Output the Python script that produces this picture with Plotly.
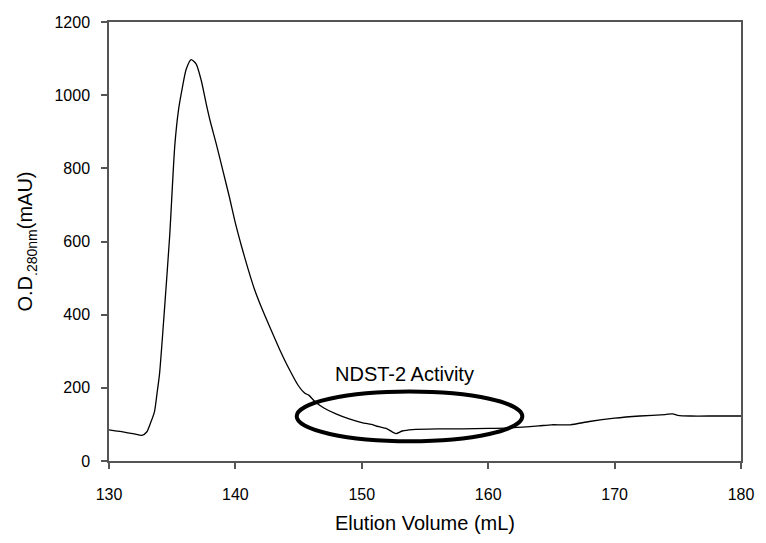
import plotly.graph_objects as go

# Elution volume (mL) and O.D. 280nm (mAU)
elution_ml = [130, 131, 132, 132.6, 133, 133.3, 133.6, 133.8, 134, 134.4, 134.8, 135.2,
              135.5, 135.8, 136.1, 136.5, 136.9, 137.3, 137.7, 138, 138.5, 139, 139.5,
              140, 140.5, 141, 141.5, 142, 142.8, 143.5, 144.2, 145, 145.5, 145.8, 146.3,
              147, 148, 149, 150, 150.9, 151.1, 152, 152.7, 153.2, 154, 156, 158, 160,
              162, 164, 165, 166.5, 168, 170, 172, 174, 174.6, 175, 176, 178, 180]
od280_mau = [85, 80, 74, 70, 80, 105, 135, 185, 239, 420, 615, 860,
             960, 1020, 1070, 1097, 1085, 1040, 975, 930, 865, 795, 725,
             650, 585, 525, 470, 425, 360, 305, 255, 205, 185, 180, 162,
             145, 128, 115, 105, 99, 96, 88, 75, 82, 86, 88, 88, 89,
             91, 96, 99, 99, 108, 117, 123, 127, 129, 125, 123, 123, 123]

x_ticks = [130, 140, 150, 160, 170, 180]
y_ticks = [0, 200, 400, 600, 800, 1000, 1200]

annotation_text = "NDST-2 Activity"
annotation_pos = (153.4, 238)
ellipse_x = (144.85, 162.7)
ellipse_y = (54, 190)

FONT = "Arial, Liberation Sans, sans-serif"

fig = go.Figure()
fig.add_trace(go.Scatter(
    x=elution_ml, y=od280_mau, mode="lines",
    line=dict(color="black", width=1.3, shape="spline", smoothing=0.6),
    showlegend=False, hoverinfo="skip",
))

fig.add_shape(type="circle", xref="x", yref="y",
              x0=ellipse_x[0], x1=ellipse_x[1], y0=ellipse_y[0], y1=ellipse_y[1],
              line=dict(color="black", width=4))

fig.add_annotation(x=annotation_pos[0], y=annotation_pos[1], xref="x", yref="y",
                   text=annotation_text, showarrow=False,
                   font=dict(family=FONT, size=20, color="black"))

axis_common = dict(
    showgrid=False, zeroline=False, showline=True, linecolor="#555555", linewidth=1.5,
    mirror=True, ticks="outside", ticklen=6, tickwidth=1.5, tickcolor="#555555",
    tickfont=dict(family=FONT, size=16, color="black"),
)

fig.update_xaxes(range=[130, 180], tickvals=x_ticks, ticktext=[str(v) for v in x_ticks],
                 ticklabelstandoff=12,
                 title=dict(text="Elution Volume (mL)", font=dict(family=FONT, size=20, color="black"),
                            standoff=14),
                 **axis_common)
fig.update_yaxes(range=[0, 1200], tickvals=y_ticks, ticktext=[str(v) for v in y_ticks],
                 ticklabelstandoff=8,
                 title=dict(text="O.D<sub>.280nm</sub>(mAU)", font=dict(family=FONT, size=20, color="black"),
                            standoff=16),
                 **axis_common)

fig.update_layout(
    width=766, height=543,
    margin=dict(l=109, r=17, t=22, b=74),
    paper_bgcolor="white", plot_bgcolor="white",
    font=dict(family=FONT, color="black"),
)

fig.write_html("out.html", config={"displayModeBar": False},
               post_script="document.body.style.margin='0';document.body.style.overflow='hidden';")
